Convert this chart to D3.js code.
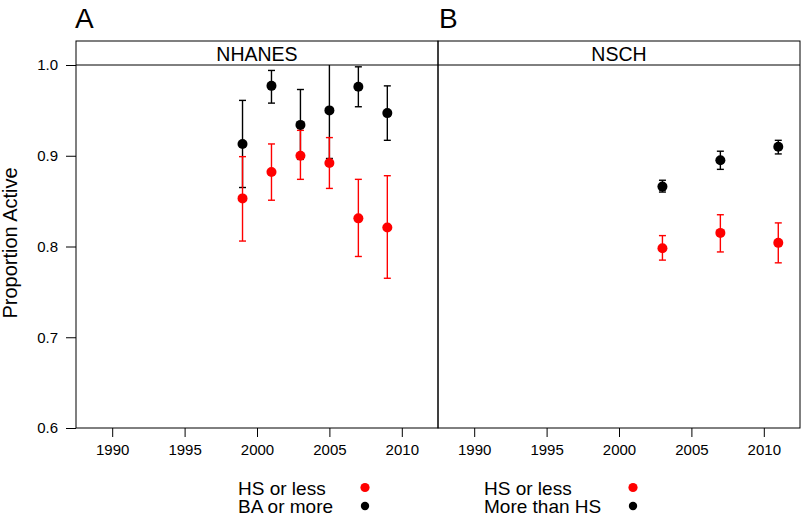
<!DOCTYPE html>
<html>
<head>
<meta charset="utf-8">
<script src="https://cdn.jsdelivr.net/npm/d3@7"></script>
<style>
  html, body { margin: 0; padding: 0; background: #fff; }
  svg { display: block; font-family: "Liberation Sans", Arial, Helvetica, sans-serif; }
</style>
</head>
<body>
<svg id="chart" width="802" height="515"></svg>
<script>
// ---- data ----
const panelLabels = ["A", "B"];
const panelTitles = ["NHANES", "NSCH"];
const xTicks = [1990, 1995, 2000, 2005, 2010];
const yTicks = [0.6, 0.7, 0.8, 0.9, 1.0];

// NHANES
const nhanesYears = [1999, 2001, 2003, 2005, 2007, 2009];
const nhanesHS      = [0.853, 0.882, 0.900, 0.892, 0.831, 0.821];
const nhanesHSLo    = [0.806, 0.851, 0.874, 0.864, 0.789, 0.765];
const nhanesHSHi    = [0.899, 0.913, 0.928, 0.920, 0.874, 0.878];
const nhanesBA      = [0.913, 0.977, 0.934, 0.950, 0.976, 0.947];
const nhanesBALo    = [0.865, 0.958, 0.896, 0.897, 0.954, 0.917];
const nhanesBAHi    = [0.961, 0.994, 0.973, 1.010, 0.998, 0.977];

// NSCH
const nschYears = [2003, 2007, 2011];
const nschHS      = [0.798, 0.815, 0.804];
const nschHSLo    = [0.785, 0.794, 0.782];
const nschHSHi    = [0.812, 0.835, 0.826];
const nschMore    = [0.866, 0.895, 0.910];
const nschMoreLo  = [0.860, 0.885, 0.902];
const nschMoreHi  = [0.873, 0.905, 0.917];

const legendA = ["HS or less", "BA or more"];
const legendB = ["HS or less", "More than HS"];
const seriesColors = ["#ff0000", "#000000"];

// ---- layout ----
const svg = d3.select("#chart");
const plotTop = 65, plotBottom = 428, stripTop = 41;
const panelX = [[76, 438], [438, 800]];

const y = d3.scaleLinear().domain([0.6, 1.0]).range([plotBottom, plotTop]);

const panels = [
  { years: nhanesYears,
    series: [
      { v: nhanesBA, lo: nhanesBALo, hi: nhanesBAHi, color: seriesColors[1] },
      { v: nhanesHS, lo: nhanesHSLo, hi: nhanesHSHi, color: seriesColors[0] }
    ],
    legend: legendA, legendX: 238, dotX: 365 },
  { years: nschYears,
    series: [
      { v: nschMore, lo: nschMoreLo, hi: nschMoreHi, color: seriesColors[1] },
      { v: nschHS, lo: nschHSLo, hi: nschHSHi, color: seriesColors[0] }
    ],
    legend: legendB, legendX: 484, dotX: 633 }
];

const defs = svg.append("defs");

panels.forEach((p, i) => {
  const [x0, x1] = panelX[i];
  const x = d3.scaleLinear().domain([1987.5, 2012.5]).range([x0, x1]);
  const g = svg.append("g");

  defs.append("clipPath").attr("id", "clip" + i)
    .append("rect").attr("x", x0).attr("y", plotTop).attr("width", x1 - x0).attr("height", plotBottom - plotTop);

  // x axis
  const xa = g.append("g").attr("transform", `translate(0,${plotBottom})`)
    .call(d3.axisBottom(x).tickValues(xTicks).tickFormat(d3.format("d")).tickSize(9).tickPadding(7));
  xa.select(".domain").remove();
  xa.selectAll("line").attr("stroke", "#000").attr("stroke-width", 1);
  xa.selectAll("text").attr("font-size", 15).attr("fill", "#000")
    .attr("font-family", "Liberation Sans, Arial, sans-serif");

  if (i === 0) {
    const ya = g.append("g").attr("transform", `translate(${x0},0)`)
      .call(d3.axisLeft(y).tickValues(yTicks).tickFormat(d3.format(".1f")).tickSize(10).tickPadding(8));
    ya.select(".domain").remove();
    ya.selectAll("line").attr("stroke", "#000").attr("stroke-width", 1);
    ya.selectAll("text").attr("font-size", 15).attr("fill", "#000")
      .attr("font-family", "Liberation Sans, Arial, sans-serif");
  }

  // data
  const dg = g.append("g").attr("clip-path", `url(#clip${i})`);
  p.series.forEach(s => {
    const pts = p.years.map((yr, k) => ({ yr, v: s.v[k], lo: s.lo[k], hi: s.hi[k] }));
    const eb = dg.append("g").attr("stroke", s.color).attr("stroke-width", 1.4).attr("fill", "none");
    pts.forEach(d => {
      const cx = x(d.yr);
      eb.append("line").attr("x1", cx).attr("x2", cx).attr("y1", y(d.lo)).attr("y2", y(d.hi));
      eb.append("line").attr("x1", cx - 3.5).attr("x2", cx + 3.5).attr("y1", y(d.lo)).attr("y2", y(d.lo));
      eb.append("line").attr("x1", cx - 3.5).attr("x2", cx + 3.5).attr("y1", y(d.hi)).attr("y2", y(d.hi));
    });
  });
  p.series.forEach(s => {
    dg.append("g").selectAll("circle").data(p.years.map((yr, k) => ({ yr, v: s.v[k] })))
      .join("circle")
      .attr("cx", d => x(d.yr)).attr("cy", d => y(d.v)).attr("r", 5)
      .attr("fill", s.color);
  });

  // panel box and strip
  g.append("rect").attr("x", x0).attr("y", stripTop).attr("width", x1 - x0).attr("height", plotBottom - stripTop)
    .attr("fill", "none").attr("stroke", "#000").attr("stroke-width", 1);
  g.append("line").attr("x1", x0).attr("x2", x1).attr("y1", plotTop).attr("y2", plotTop)
    .attr("stroke", "#000").attr("stroke-width", 1);
  g.append("text").attr("x", (x0 + x1) / 2).attr("y", 60.5).attr("text-anchor", "middle")
    .attr("font-size", 19.5).attr("fill", "#000").text(panelTitles[i]);

  // panel label
  g.append("text").attr("x", x0 + (i === 0 ? -1 : 1)).attr("y", 28).attr("font-size", 28)
    .attr("fill", "#000").text(panelLabels[i]);

  // legend
  const ly = [495, 513];
  const dy = [487.5, 506];
  p.legend.forEach((t, k) => {
    g.append("text").attr("x", p.legendX).attr("y", ly[k]).attr("font-size", 19)
      .attr("fill", "#000").text(t);
    g.append("circle").attr("cx", p.dotX).attr("cy", dy[k]).attr("r", k === 0 ? 4.6 : 4.2)
      .attr("fill", seriesColors[k === 0 ? 0 : 1]);
  });
});

// y title
svg.append("text")
  .attr("transform", "translate(17,243) rotate(-90)")
  .attr("text-anchor", "middle").attr("font-size", 20).attr("fill", "#000")
  .text("Proportion Active");
</script>
</body>
</html>
